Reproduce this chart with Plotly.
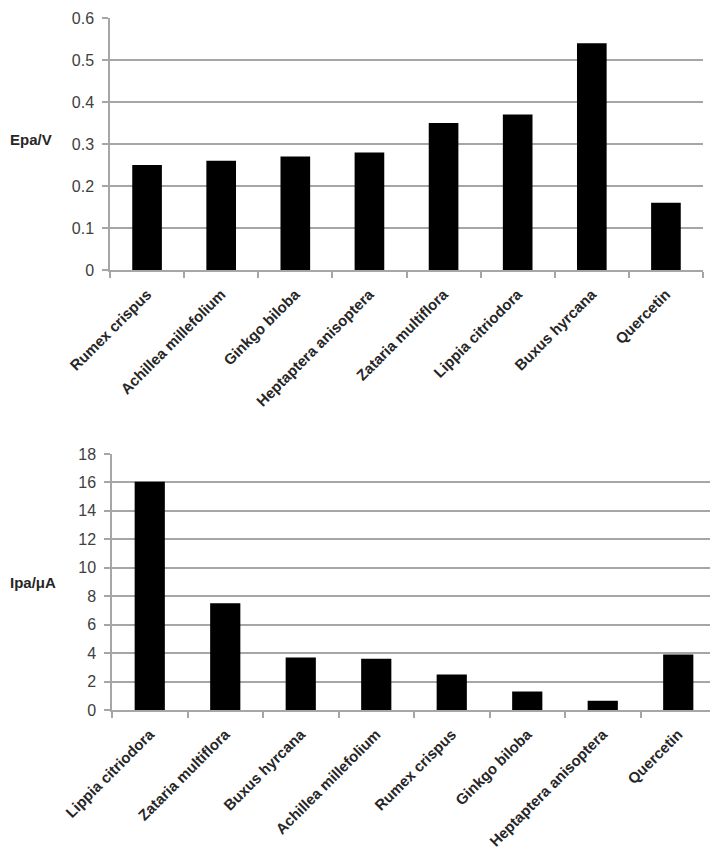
import plotly.graph_objects as go

# Top chart data
top_categories = ["Rumex crispus", "Achillea millefolium", "Ginkgo biloba",
                  "Heptaptera anisoptera", "Zataria multiflora", "Lippia citriodora",
                  "Buxus hyrcana", "Quercetin"]
top_values = [0.25, 0.26, 0.27, 0.28, 0.35, 0.37, 0.54, 0.16]

# Bottom chart data
bottom_categories = ["Lippia citriodora", "Zataria multiflora", "Buxus hyrcana",
                     "Achillea millefolium", "Rumex crispus", "Ginkgo biloba",
                     "Heptaptera anisoptera", "Quercetin"]
bottom_values = [16.05, 7.5, 3.7, 3.6, 2.5, 1.3, 0.65, 3.9]

W, H = 718, 859
OFF = 8  # page body margin
FONT = "Liberation Sans, Arial, sans-serif"

def px_x(p):
    return (p - OFF) / W

def px_y(p):
    return 1 - (p - OFF) / H

fig = go.Figure()
fig.add_trace(go.Bar(x=top_categories, y=top_values, xaxis="x", yaxis="y",
                     marker=dict(color="black", line=dict(width=0)), showlegend=False))
fig.add_trace(go.Bar(x=bottom_categories, y=bottom_values, xaxis="x2", yaxis="y2",
                     marker=dict(color="black", line=dict(width=0)), showlegend=False))

grid = "#a6a6a6"

def xaxis_cfg(domain, anchor):
    return dict(domain=domain, anchor=anchor, type="category", showline=True, linecolor=grid,
                linewidth=1.5, ticks="outside", ticklen=6, tickcolor=grid, tickwidth=1.5,
                tickson="boundaries", tickangle=-45,
                tickfont=dict(family=FONT, size=15, color="#262626", weight="bold"),
                showgrid=False, automargin=False, ticklabelstandoff=8)

def yaxis_cfg(domain, anchor, rng, dtick):
    return dict(domain=domain, anchor=anchor, range=rng, dtick=dtick, showline=True,
                linecolor=grid, linewidth=1.5, ticks="outside", ticklen=6, tickcolor=grid,
                tickwidth=1.5, showgrid=True, gridcolor=grid, gridwidth=1.5, zeroline=False,
                tickfont=dict(family=FONT, size=16, color="#404040"),
                ticklabelstandoff=5, automargin=False, ticklabeloverflow="allow")

fig.update_layout(
    width=W, height=H,
    margin=dict(l=0, r=0, t=0, b=0),
    paper_bgcolor="white", plot_bgcolor="white",
    bargap=0.6,
    font=dict(family=FONT),
    xaxis=xaxis_cfg([px_x(110), min(1, px_x(703))], "y"),
    yaxis=yaxis_cfg([px_y(270), px_y(18)], "x", [0, 0.6], 0.1),
    xaxis2=xaxis_cfg([px_x(112), min(1, px_x(716))], "y2"),
    yaxis2=yaxis_cfg([px_y(710), px_y(454)], "x2", [0, 18], 2),
    annotations=[
        dict(text="<b>Epa/V</b>", x=0, y=px_y(139), xref="paper", yref="paper",
             xanchor="left", yanchor="middle", showarrow=False,
             font=dict(size=15, color="#262626", family=FONT)),
        dict(text="<b>Ipa/μA</b>", x=0, y=px_y(582), xref="paper", yref="paper",
             xanchor="left", yanchor="middle", showarrow=False,
             font=dict(size=15, color="#262626", family=FONT)),
    ],
)

fig.write_html("out.html")
